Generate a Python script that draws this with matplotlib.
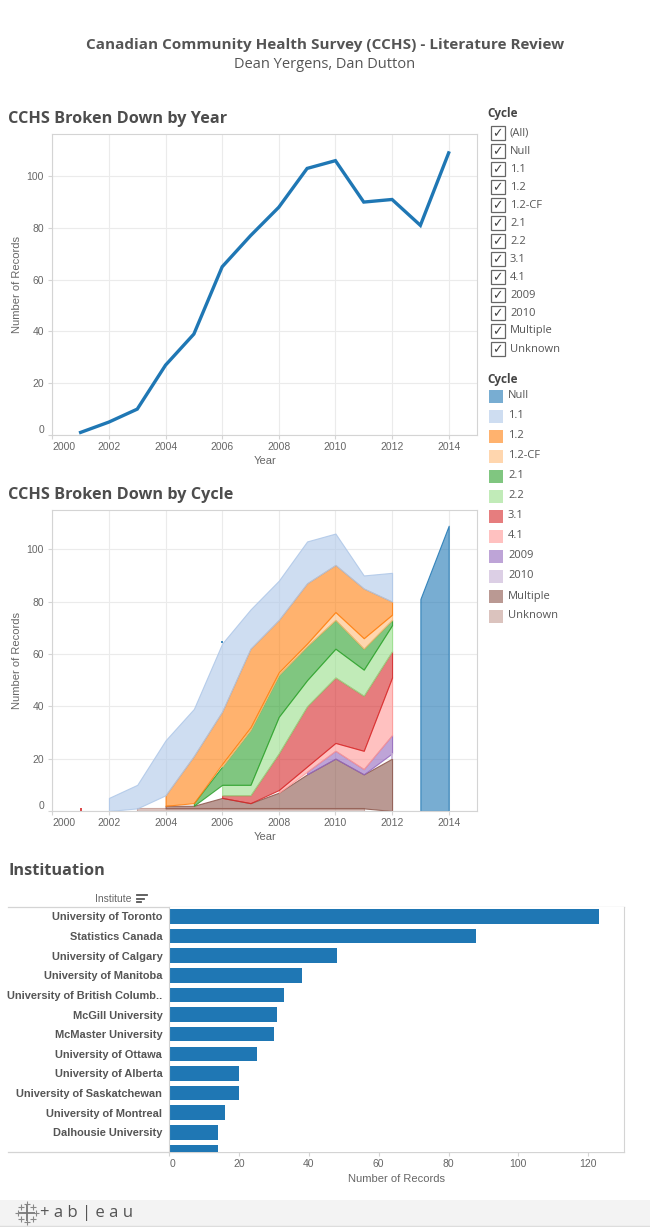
import numpy as np
import matplotlib.pyplot as plt
from matplotlib.patches import Rectangle
from matplotlib.colors import to_rgba

nan = np.nan

# ---- data ----
years = np.arange(2001, 2015)

# stacking order in Tableau: legend order top -> bottom
cycle_names = ['Null', '1.1', '1.2', '1.2-CF', '2.1', '2.2', '3.1', '4.1',
               '2009', '2010', 'Multiple', 'Unknown']
cycle_colors = ['#1f77b4', '#aec7e8', '#ff7f0e', '#ffbb78', '#2ca02c', '#98df8a',
                '#d62728', '#ff9896', '#9467bd', '#c5b0d5', '#8c564b', '#c49c94']

#            2001 2002 2003 2004 2005 2006 2007 2008 2009 2010 2011 2012 2013 2014
rec_null  = [nan, nan, nan, nan, nan, 1,   nan, nan, nan, nan, nan, nan, 81,  109]
rec_11    = [nan, 5,   9,   21,  18,  26,  15,  15,  16,  12,  5,   11,  nan, nan]
rec_12    = [nan, nan, nan, 4,   18,  20,  30,  20,  23,  18,  19,  5,   nan, nan]
rec_12cf  = [nan, nan, nan, nan, nan, 1,   1,   1,   1,   3,   4,   2,   nan, nan]
rec_21    = [nan, nan, nan, nan, 1,   7,   21,  16,  13,  11,  8,   2,   nan, nan]
rec_22    = [nan, nan, nan, nan, nan, 4,   4,   14,  10,  11,  10,  10,  nan, nan]
rec_31    = [1,   nan, nan, nan, nan, 1,   3,   14,  23,  25,  21,  10,  nan, nan]
rec_41    = [nan, nan, nan, nan, nan, nan, nan, 1,   2,   3,   7,   22,  nan, nan]
rec_2009  = [nan, nan, nan, nan, nan, nan, nan, nan, 1,   3,   2,   7,   nan, nan]
rec_2010  = [nan, nan, nan, nan, nan, nan, nan, nan, nan, nan, nan, 2,   nan, nan]
rec_mult  = [nan, nan, nan, 1,   1,   4,   2,   6,   13,  19,  13,  20,  nan, nan]
rec_unk   = [nan, nan, 1,   1,   1,   1,   1,   1,   1,   1,   1,   nan, nan, nan]

cycle_records = [rec_null, rec_11, rec_12, rec_12cf, rec_21, rec_22, rec_31, rec_41,
                 rec_2009, rec_2010, rec_mult, rec_unk]

institutes = ['University of Toronto', 'Statistics Canada', 'University of Calgary',
              'University of Manitoba', 'University of British Columb..', 'McGill University',
              'McMaster University', 'University of Ottawa', 'University of Alberta',
              'University of Saskatchewan', 'University of Montreal', 'Dalhousie University', '']
inst_records = [123, 88, 48, 38, 33, 31, 30, 25, 20, 20, 16, 14, 14]

# ---- figure ----
W, H = 650, 1227
fig = plt.figure(figsize=(W / 100, H / 100), dpi=100)

# overlay in pixel coordinates for titles, legends, frames
ov = fig.add_axes([0, 0, 1, 1])
ov.set_xlim(0, W)
ov.set_ylim(H, 0)
ov.axis('off')


def px_axes(left, top, right, bottom):
    return fig.add_axes([left / W, 1 - bottom / H, (right - left) / W, (bottom - top) / H])


TITLE_FONT = 'Open Sans'
AXIS_FONT = 'Liberation Sans'
TXT = '#555555'
GRID = '#ebebeb'
SPINE = '#d4d4d4'

ov.text(325, 45, 'Canadian Community Health Survey (CCHS) - Literature Review', ha='center',
        va='center', fontsize=11, fontweight='bold', family=TITLE_FONT, color=TXT)
ov.text(325, 64, 'Dean Yergens, Dan Dutton', ha='center', va='center', fontsize=10.5,
        family=TITLE_FONT, color=TXT)

for y, t in [(119, 'CCHS Broken Down by Year'), (495, 'CCHS Broken Down by Cycle'),
             (871, 'Instituation')]:
    ov.text(8, y, t, ha='left', va='center', fontsize=11.7, fontweight='bold',
            family=TITLE_FONT, color='#4d4d4d')


def style_year_axes(ax, ymax):
    ax.set_xlim(2000, 2015)
    ax.set_ylim(0, ymax)
    ax.set_xticks(range(2000, 2015, 2))
    ax.set_yticks(range(0, 101, 20))
    ax.grid(True, color=GRID, lw=0.8)
    ax.set_axisbelow(True)
    for s in ax.spines.values():
        s.set_color(SPINE)
    ax.tick_params(axis='x', length=3, color=SPINE, pad=2, labelsize=7.5, labelcolor='#666666')
    ax.tick_params(axis='y', length=3, color=SPINE, pad=3, labelsize=7.5, labelcolor='#666666')
    for lab in ax.get_xticklabels() + ax.get_yticklabels():
        lab.set_family(AXIS_FONT)
    ax.get_xticklabels()[0].set_horizontalalignment('left')
    ax.get_yticklabels()[0].set_verticalalignment('bottom')
    ax.set_xlabel('Year', fontsize=8, family=AXIS_FONT, color='#666666', labelpad=3)
    ax.set_ylabel('Number of Records', fontsize=8, family=AXIS_FONT, color='#666666', labelpad=3)


# ---- line chart: total per year ----
totals = np.nansum(np.array(cycle_records, dtype=float), axis=0)
ax1 = px_axes(52.3, 134, 477, 435)
ax1.plot(years, totals, color='#1f77b4', lw=2.4, solid_joinstyle='miter')
style_year_axes(ax1, 116.3)

# ---- stacked area chart by cycle ----
ax2 = px_axes(52.3, 510, 477, 811)
base = np.zeros(len(years))
for name, col, rec in reversed(list(zip(cycle_names, cycle_colors, cycle_records))):
    vals = np.array(rec, dtype=float)
    top = base + np.nan_to_num(vals)
    idx = np.flatnonzero(~np.isnan(vals))
    if len(idx):
        for seg in np.split(idx, np.flatnonzero(np.diff(idx) > 1) + 1):
            if len(seg) == 1:
                ax2.vlines(years[seg], base[seg], top[seg], color=col, lw=1.2)
            else:
                ax2.fill_between(years[seg], base[seg], top[seg], facecolor=to_rgba(col, 0.6),
                                 edgecolor=to_rgba(col, 0.85), lw=0.8)
    base = top
style_year_axes(ax2, 115)

# ---- filter legend (checkboxes) ----
ov.text(487, 114, 'Cycle', ha='left', va='center', fontsize=8.5, fontweight='bold',
        family=TITLE_FONT, color='#444444')
for i, name in enumerate(['(All)'] + cycle_names):
    y = 133 + 18 * i
    ov.add_patch(Rectangle((490.5, y - 7), 14, 14, fill=False, ec='#666666', lw=0.9))
    ov.text(497.5, y + 0.5, '\u2713', ha='center', va='center', fontsize=9,
            family='DejaVu Sans', color='#444444')
    ov.text(510, y, name, ha='left', va='center', fontsize=8, family=TITLE_FONT, color=TXT)

# ---- colour legend ----
ov.text(487, 379, 'Cycle', ha='left', va='center', fontsize=8.5, fontweight='bold',
        family=TITLE_FONT, color='#444444')
for i, (name, col) in enumerate(zip(cycle_names, cycle_colors)):
    y = 396 + 20 * i
    ov.add_patch(Rectangle((489, y - 6.5), 14, 13, fc=to_rgba(col, 0.6), ec='none'))
    ov.text(508, y, name, ha='left', va='center', fontsize=8, family=TITLE_FONT, color=TXT)

# ---- institution bar chart ----
ax3 = px_axes(169.3, 906.5, 623.7, 1152)
pos = np.arange(len(institutes))
ax3.barh(pos, inst_records, height=0.74, color='#1f77b4')
ax3.set_ylim(11.8, -0.5)
ax3.set_xlim(0, 130.2)
ax3.set_xticks(range(0, 121, 20))
ax3.set_yticks(pos)
ax3.set_yticklabels(institutes)
ax3.tick_params(axis='y', length=0, pad=5)
ax3.tick_params(axis='x', length=3, color=SPINE, pad=2, labelsize=7.5, labelcolor='#666666')
for lab in ax3.get_yticklabels():
    lab.set_family(AXIS_FONT)
    lab.set_fontweight('bold')
    lab.set_fontsize(7.9)
    lab.set_color(TXT)
for lab in ax3.get_xticklabels():
    lab.set_family(AXIS_FONT)
ax3.get_xticklabels()[0].set_horizontalalignment('left')
ax3.spines['top'].set_visible(False)
ax3.spines['bottom'].set_visible(False)
ax3.spines['left'].set_color(SPINE)
ax3.spines['right'].set_color(SPINE)
ax3.set_xlabel('Number of Records', fontsize=8, family=AXIS_FONT, color='#666666', labelpad=4)
for y in (906.5, 1152):
    ov.plot([8, 623.7], [y, y], color=SPINE, lw=0.9)

ov.text(132, 899, 'Institute', ha='right', va='center', fontsize=7.5, family=AXIS_FONT,
        color='#666666')
for k, ln in enumerate([10, 7, 4]):
    ov.plot([137, 137 + ln], [895 + 3.5 * k, 895 + 3.5 * k], color='#555555', lw=1.3)

# ---- footer ----
ov.add_patch(Rectangle((0, 1200), W, 27, fc='#f3f3f3', ec='none'))
ov.plot([0, W], [1226, 1226], color='#dddddd', lw=1)
# tableau logo: cluster of crosses
ov.plot([27], [1213], marker='+', ms=11, mew=1.3, color='#777777')
ov.plot([21, 33, 21, 33, 27, 27, 18, 36], [1207, 1207, 1219, 1219, 1204, 1222, 1213, 1213],
        ls='none', marker='+', ms=4, mew=0.8, color='#888888')
ov.text(40, 1213, '+ a b | e a u', ha='left', va='center', fontsize=12,
        family=TITLE_FONT, color='#555555')

fig.savefig('out.png', dpi=100)
